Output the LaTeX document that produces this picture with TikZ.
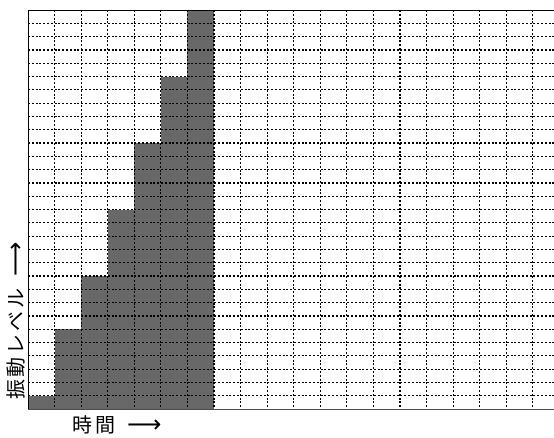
\documentclass[tikz,border=0pt]{standalone}
\usepackage{fontspec}
\newfontfamily\jpfont[LetterSpace=14]{Noto Sans CJK JP}
\newfontfamily\arrowfont{DejaVu Sans}
\usepackage{tikz}
\newcommand{\colw}{26.57}
\newcommand{\rowh}{13.3}
\newcommand{\longarrow}{{\arrowfont\fontsize{24}{24}\selectfont ⟶}}
\definecolor{barfill}{RGB}{104,104,104}
\tikzset{
  gridline/.style={black, line width=1.2pt, dash pattern=on 2pt off 1.8pt},
  frameline/.style={black, line width=1pt},
  axislabel/.style={font=\jpfont\fontsize{20}{24}\selectfont, inner sep=0pt}
}

\begin{document}
\begin{tikzpicture}[x=1pt,y=-1pt]
        \useasboundingbox (0,0) rectangle (554,437);

          % bars
        \foreach \col/\lev in {0/1,1/6,2/10,3/15,4/20,5/25,6/30}
          \fill[barfill] ({28+\col*\colw},409) rectangle ({28+(\col+1)*\colw},{409-\lev*\rowh});

          % dotted grid
        \begin{scope}
        \clip (28,10) rectangle (554,409);
        \foreach \k in {1,...,19}
          \draw[gridline] ({28+\k*\colw},10) -- ({28+\k*\colw},409);
        \foreach \k in {1,...,29}
          \draw[gridline] (28,{10+\k*\rowh}) -- (554,{10+\k*\rowh});
        \end{scope}

          % frame
        \coordinate (topleft) at (28,10);
        \coordinate (topright) at (554,10);
        \coordinate (botleft) at (28,409);
        \coordinate (botright) at (554,409);
        \draw[frameline] (topright) -- (topleft) -- (botleft);
        \draw[frameline, black!70] (botleft) -- (botright);

          % labels
        \node (ylabel) at (16,400) [axislabel, rotate=90, anchor=west] {振動レベル\hspace{12pt}\longarrow};
        \node (xlabel) at (72,425) [axislabel, anchor=west] {時\hspace{3pt}間\hspace{12pt}\longarrow};

        \end{tikzpicture}
\end{document}
